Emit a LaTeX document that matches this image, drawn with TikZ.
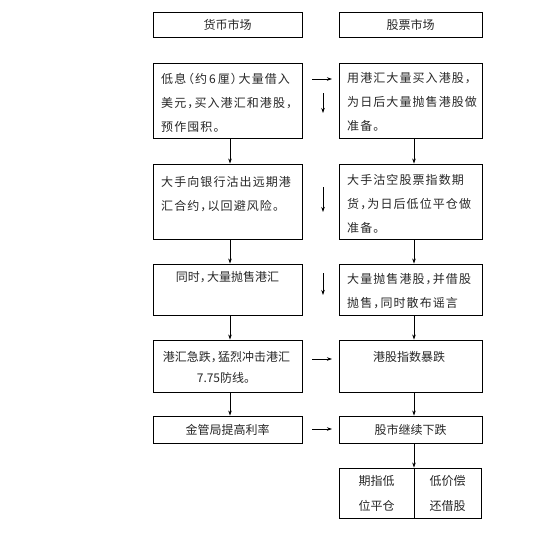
\documentclass[tikz,border=0pt]{standalone}
\usepackage{fontspec}
\setmainfont{Noto Sans CJK SC}
\newfontfamily\cjkw[LetterSpace=9]{Noto Sans CJK SC}
\newfontfamily\cjkn{Noto Sans CJK SC}
\usetikzlibrary{arrows.meta}
\newcommand\hc{，\kern-0.4em}
\newcommand\hp{。}
\tikzset{
  box/.style={draw, line width=0.9pt, rectangle, inner sep=0pt},
  para/.style={inner sep=0pt, font=\cjkw\fontsize{12}{24}\selectfont, align=left, text=black!85},
  ctr/.style={inner sep=0pt, font=\cjkn\fontsize{12}{24}\selectfont, align=center, text=black!85},
  arr/.style={line width=0.7pt, -{Stealth[length=5pt,width=3.5pt]}}
}
\begin{document}
\begin{tikzpicture}[x=1pt,y=-1pt]
\useasboundingbox (0,0) rectangle (549,542);
% headers
\node[box, ctr, minimum width=149, minimum height=25] (H1) at (227.5,24.5) {货币市场};
\node[box, ctr, minimum width=143, minimum height=25] (H2) at (410.5,24.5) {股票市场};
% row 2
\node[box, minimum width=149, minimum height=75] (L2) at (227.5,100.5) {};
\node[box, minimum width=143, minimum height=75] (R2) at (410.5,100.5) {};
\node[para, anchor=north west] (tL2) at (161,73.5) {低息\kern-0.35em（约\,6\,厘）\kern-0.35em大量借入\\美元\hc 买入港汇和港股\hc\\预作囤积\hp};
\node[para, anchor=north west] (tR2) at (347,72.5) {用港汇大量买入港股\hc\\为日后大量抛售港股做\\准备\hp};
% row 3
\node[box, minimum width=149, minimum height=75] (L3) at (227.5,201.5) {};
\node[box, minimum width=143, minimum height=75] (R3) at (410.5,201.5) {};
\node[para, anchor=north west] (tL3) at (161,176.5) {大手向银行沽出远期港\\汇合约\hc 以回避风险\hp};
\node[para, anchor=north west] (tR3) at (347,174.5) {大手沽空股票指数期\\货\hc 为日后低位平仓做\\准备\hp};
% row 4
\node[box, minimum width=149, minimum height=51] (L4) at (227.5,289.5) {};
\node[box, minimum width=143, minimum height=51] (R4) at (410.5,289.5) {};
\node[ctr, anchor=north] (tL4) at (227.5,271.5) {同时\hc 大量抛售港汇};
\node[para, anchor=north west] (tR4) at (347,273.5) {大量抛售港股\hc 并借股\\抛售\hc 同时散布谣言};
% row 5
\node[box, minimum width=149, minimum height=52] (L5) at (227.5,366) {};
\node[box, minimum width=143, minimum height=52] (R5) at (410.5,366) {};
\node[ctr, anchor=north, font=\cjkn\fontsize{12}{21}\selectfont] (tL5) at (226.5,351.5) {港汇急跌\hc 猛烈冲击港汇\\7.75防线\hp};
\node[ctr, anchor=north] (tR5) at (409,351.5) {港股指数暴跌};
% row 6
\node[box, ctr, minimum width=149, minimum height=27] (L6) at (227.5,429.5) {金管局提高利率};
\node[box, ctr, minimum width=143, minimum height=27] (R6) at (410.5,429.5) {股市继续下跌};
% row 7
\node[box, ctr, minimum width=75, minimum height=50, font=\cjkn\fontsize{12}{25}\selectfont] (R7a) at (376.5,493) {期指低\\位平仓};
\node[box, ctr, minimum width=67, minimum height=50, font=\cjkn\fontsize{12}{25}\selectfont] (R7b) at (447.5,493) {低价偿\\还借股};
% vertical connectors
\foreach \a/\b in {L2/L3, L3/L4, L4/L5, L5/L6}
  \draw[arr] ([xshift=2.5pt]\a.south) -- ([xshift=2.5pt]\b.north);
\foreach \a/\b in {R2/R3, R3/R4, R4/R5, R5/R6}
  \draw[arr] ([xshift=3.5pt]\a.south) -- ([xshift=3.5pt]\b.north);
\draw[arr] ([xshift=3.5pt]R6.south) -- ([xshift=3.5pt]R6.south |- R7a.north);
% free arrows between columns
\coordinate (a1) at (312,79);  \coordinate (b1) at (332,79);
\coordinate (a2) at (312,359); \coordinate (b2) at (332,359);
\coordinate (a3) at (312,429); \coordinate (b3) at (332,429);
\draw[arr] (a1) -- (b1);
\draw[arr] (a2) -- (b2);
\draw[arr] (a3) -- (b3);
\coordinate (v1a) at (323,93);  \coordinate (v1b) at (323,113);
\coordinate (v2a) at (323,187); \coordinate (v2b) at (323,212);
\coordinate (v3a) at (323,273); \coordinate (v3b) at (323,295);
\draw[arr] (v1a) -- (v1b);
\draw[arr] (v2a) -- (v2b);
\draw[arr] (v3a) -- (v3b);
\end{tikzpicture}
\end{document}
